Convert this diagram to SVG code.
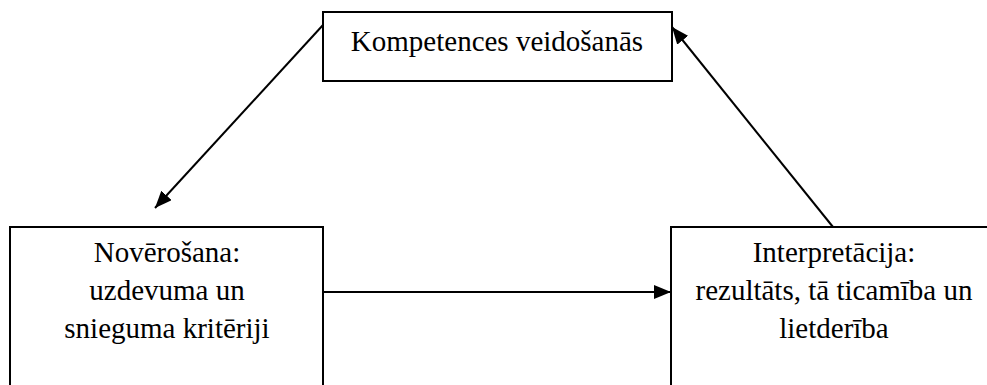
<svg xmlns="http://www.w3.org/2000/svg" width="987" height="385" viewBox="0 0 987 385">
  <style>
    .box { fill: #fff; stroke: #000; stroke-width: 2; }
    .conn { stroke: #000; stroke-width: 2; fill: none; marker-end: url(#arrow); }
    .lbl { font-family: 'Times New Roman', 'Liberation Serif', 'DejaVu Serif', 'Noto Serif', serif; font-size: 29px; text-anchor: middle; fill: #000; }
  </style>
  <defs>
    <marker id="arrow" markerUnits="userSpaceOnUse" markerWidth="18" markerHeight="14" refX="17" refY="7" orient="auto">
      <path d="M0,0 L17,7 L0,14 Z" fill="#000"/>
    </marker>
  </defs>
  <rect width="987" height="385" fill="#fff"/>

  <g id="connectors">
    <line class="conn" x1="323" y1="25" x2="155" y2="208"/>
    <line class="conn" x1="323" y1="292" x2="671" y2="292"/>
    <line class="conn" x1="833" y1="227" x2="672" y2="27"/>
  </g>

  <g id="node-competence">
    <rect class="box" x="323" y="12" width="349" height="69"/>
    <text class="lbl" x="497" y="51">Kompetences veidošanās</text>
  </g>

  <g id="node-observation">
    <rect class="box" x="10" y="227" width="313" height="170"/>
    <text class="lbl" x="167" y="262">Novērošana:</text>
    <text class="lbl" x="167" y="300">uzdevuma un</text>
    <text class="lbl" x="167" y="338">snieguma kritēriji</text>
  </g>

  <g id="node-interpretation">
    <rect class="box" x="671" y="227" width="330" height="170"/>
    <text class="lbl" x="834" y="262">Interpretācija:</text>
    <text class="lbl" x="834" y="300">rezultāts, tā ticamība un</text>
    <text class="lbl" x="834" y="338">lietderība</text>
  </g>
</svg>
